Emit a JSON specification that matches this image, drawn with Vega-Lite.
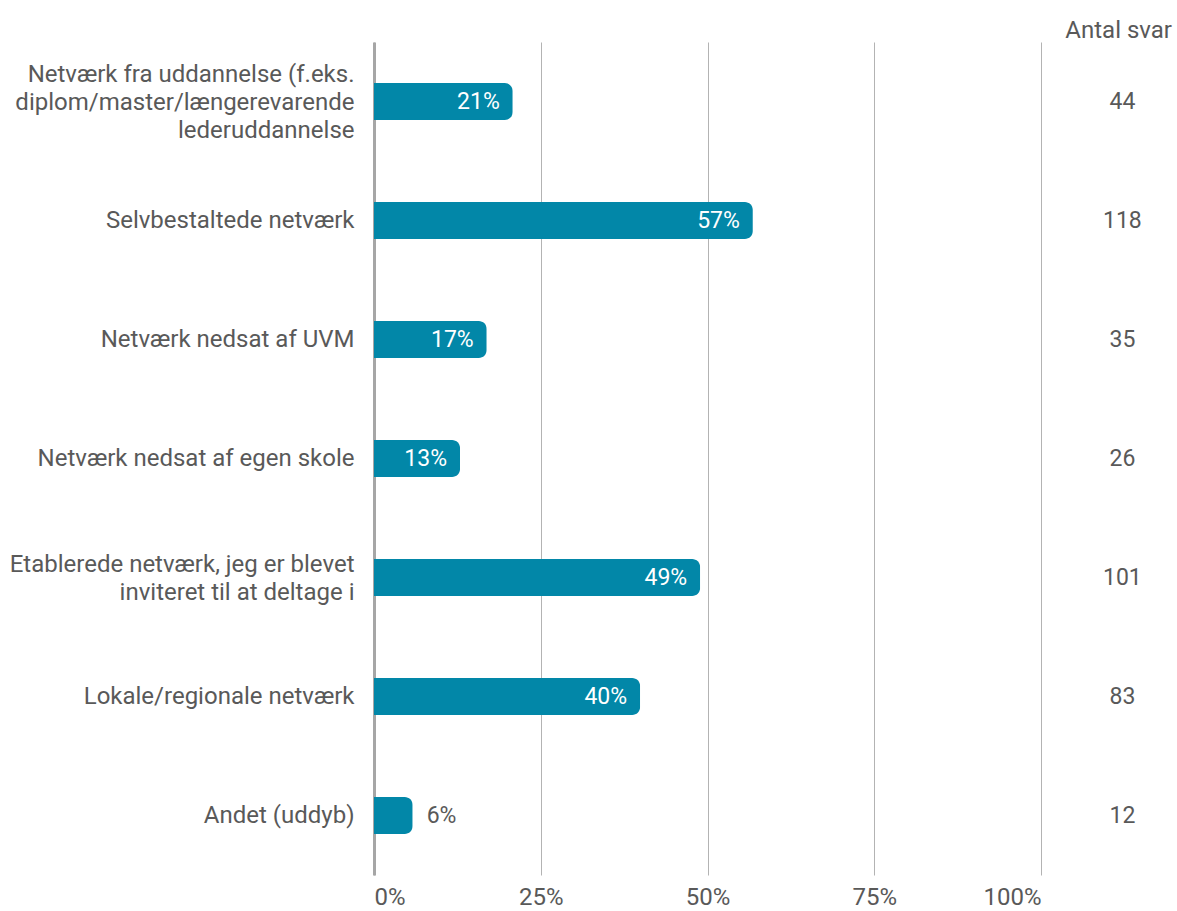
{
  "$schema": "https://vega.github.io/schema/vega-lite/v6.json",
  "autosize": {"type": "none"},
  "padding": {"left": 374, "top": 42, "right": 136, "bottom": 36},
  "width": 667,
  "height": 833,
  "background": "white",
  "title": {
    "text": "Antal svar",
    "anchor": "end",
    "frame": "group",
    "dx": 131,
    "offset": -1,
    "font": "Roboto",
    "fontSize": 24,
    "fontWeight": "normal",
    "color": "#595959"
  },
  "config": {
    "font": "Roboto",
    "view": {"stroke": null}
  },
  "data": {
    "values": [
      {"kategori": "Netværk fra uddannelse (f.eks.|diplom/master/længerevarende|lederuddannelse", "andel": 0.208, "label": "21%", "antal": 44, "inside": true},
      {"kategori": "Selvbestaltede netværk", "andel": 0.568, "label": "57%", "antal": 118, "inside": true},
      {"kategori": "Netværk nedsat af UVM", "andel": 0.169, "label": "17%", "antal": 35, "inside": true},
      {"kategori": "Netværk nedsat af egen skole", "andel": 0.129, "label": "13%", "antal": 26, "inside": true},
      {"kategori": "Etablerede netværk, jeg er blevet|inviteret til at deltage i", "andel": 0.489, "label": "49%", "antal": 101, "inside": true},
      {"kategori": "Lokale/regionale netværk", "andel": 0.399, "label": "40%", "antal": 83, "inside": true},
      {"kategori": "Andet (uddyb)", "andel": 0.058, "label": "6%", "antal": 12, "inside": false}
    ]
  },
  "encoding": {
    "y": {
      "field": "kategori",
      "type": "nominal",
      "sort": null,
      "scale": {"paddingInner": 0.69, "paddingOuter": 0.345},
      "axis": {
        "title": null,
        "ticks": false,
        "labelExpr": "split(datum.label, '|')",
        "labelFont": "Roboto",
        "labelFontSize": 24,
        "labelFontWeight": "normal",
        "labelLineHeight": 28,
        "labelBaseline": "middle",
        "labelOffset": {
          "condition": [
            {"test": "length(split(datum.value, '|')) == 3", "value": -27},
            {"test": "length(split(datum.value, '|')) == 2", "value": -13}
          ],
          "value": 0
        },
        "labelColor": "#595959",
        "labelPadding": 20,
        "labelLimit": 400,
        "domain": true,
        "domainColor": "#a6a6a6",
        "domainWidth": 3
      }
    }
  },
  "layer": [
    {
      "mark": {"type": "bar", "color": "#0287A8", "cornerRadiusEnd": 8},
      "encoding": {
        "x": {
          "field": "andel",
          "type": "quantitative",
          "scale": {"domain": [0, 1], "nice": false},
          "axis": {
            "title": null,
            "format": ".0%",
            "values": [0, 0.25, 0.5, 0.75, 1],
            "grid": true,
            "gridColor": "#b3b3b3",
            "gridWidth": 1,
            "domain": false,
            "ticks": false,
            "labelFont": "Roboto",
            "labelFontSize": 24,
            "labelFontWeight": "normal",
            "labelColor": "#595959",
            "labelPadding": 10,
            "labelFlush": true
          }
        }
      }
    },
    {
      "transform": [{"filter": "datum.inside"}],
      "mark": {"type": "text", "align": "right", "dx": -13, "color": "white", "fontSize": 23, "font": "Roboto", "baseline": "middle"},
      "encoding": {
        "x": {"field": "andel", "type": "quantitative"},
        "text": {"field": "label"}
      }
    },
    {
      "transform": [{"filter": "!datum.inside"}],
      "mark": {"type": "text", "align": "left", "dx": 14, "color": "#595959", "fontSize": 23, "font": "Roboto", "baseline": "middle"},
      "encoding": {
        "x": {"field": "andel", "type": "quantitative"},
        "text": {"field": "label"}
      }
    },
    {
      "mark": {"type": "text", "align": "center", "color": "#595959", "fontSize": 23, "font": "Roboto", "baseline": "middle", "clip": false},
      "encoding": {
        "x": {"datum": 1.122, "type": "quantitative"},
        "text": {"field": "antal"}
      }
    }
  ]
}
